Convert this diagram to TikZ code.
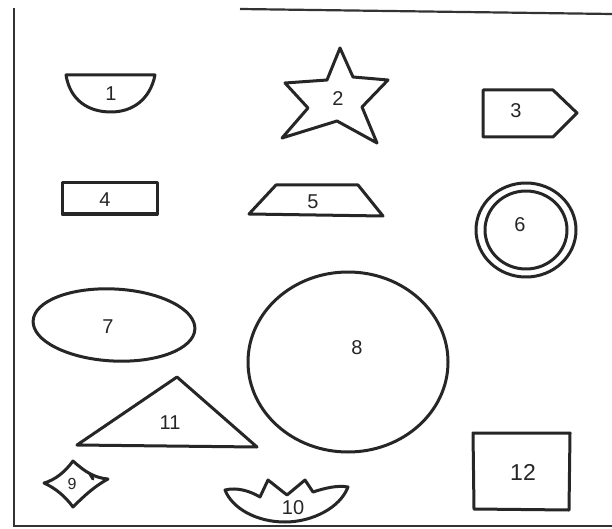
\documentclass[tikz,border=0pt]{standalone}
\usepackage{fontspec}
\setmainfont{Liberation Sans}
\begin{document}
\begin{tikzpicture}[x=1pt,y=-1pt,
  shp/.style={draw=black!85, line width=3pt, line join=round, line cap=round},
  frame/.style={draw=black!80, line width=2.2pt},
  lbl/.style={font=\fontsize{20}{20}\selectfont, text=black!85, inner sep=0pt}]
\useasboundingbox (0,0) rectangle (612,529);
\fill[white] (0,0) rectangle (612,529);
% frame
\draw[frame] (14,8) -- (14,526) -- (612,526);
\draw[frame] (240,9) -- (612,14);
% 1 bowl
\draw[shp] (66,75) -- (155,75) .. controls (150,100) and (132,112) .. (111,112) .. controls (88,112) and (70,100) .. (66,75) -- cycle;
\node[lbl] (l1) at (111,94) {1};
% 2 star
\draw[shp] (340,48) -- (327,80) -- (285,83) -- (308,108) -- (282,138) -- (337,121) -- (377,143) -- (362,107) -- (388,80) -- (353,77) -- cycle;
\node[lbl] (l2) at (338,99) {2};
% 3 pentagon
\draw[shp] (483,90) -- (553,90) -- (577,113) -- (553,137) -- (483,137) -- cycle;
\node[lbl] (l3) at (516,111) {3};
% 4 rectangle
\draw[shp] (62,183) rectangle (157,214);
\node[lbl] (l4) at (105,200) {4};
% 5 trapezoid
\draw[shp] (276,185) -- (358,185) -- (383,216) -- (249,214) -- cycle;
\node[lbl] (l5) at (313,202) {5};
% 6 double circle
\draw[shp] (526,230) ellipse [x radius=50, y radius=47];
\draw[shp] (526,230) ellipse [x radius=41, y radius=39];
\node[lbl] (l6) at (520,225) {6};
% 7 ellipse
\draw[shp, rotate around={-3:(114,325)}] (114,325) ellipse [x radius=81, y radius=36];
\node[lbl] (l7) at (108,327) {7};
% 8 big circle
\draw[shp] (348,362) ellipse [x radius=100, y radius=90];
\node[lbl] (l8) at (357,348) {8};
% 11 triangle
\draw[shp] (177,377) -- (257,447) -- (77,445) -- cycle;
\node[lbl] (l11) at (170,423) {11};
% 9 concave diamond
\draw[shp] (73,461) .. controls (85,472) and (95,478) .. (108,479)
  .. controls (95,486) and (85,495) .. (73,507)
  .. controls (65,496) and (55,488) .. (44,483)
  .. controls (55,480) and (65,472) .. (73,461) -- cycle;
\draw[shp] (90,474) -- (93,479);
\node[lbl, font=\fontsize{16}{16}\selectfont] (l9) at (72,484) {9};
% 10 crown bowl
\draw[shp] (225,490) .. controls (237,487) and (250,491) .. (260,497) -- (268,480) -- (287,495) -- (305,480) -- (313,492)
  .. controls (325,488) and (338,485) .. (348,487)
  .. controls (340,508) and (312,522) .. (285,522)
  .. controls (256,522) and (232,508) .. (225,490) -- cycle;
\node[lbl] (l10) at (293,508) {10};
% 12 rectangle
\draw[shp] (473,433) -- (570,433) -- (569,510) -- (474,509) -- cycle;
\node[lbl, font=\fontsize{23}{23}\selectfont] (l12) at (523,472) {12};
\end{tikzpicture}
\end{document}
